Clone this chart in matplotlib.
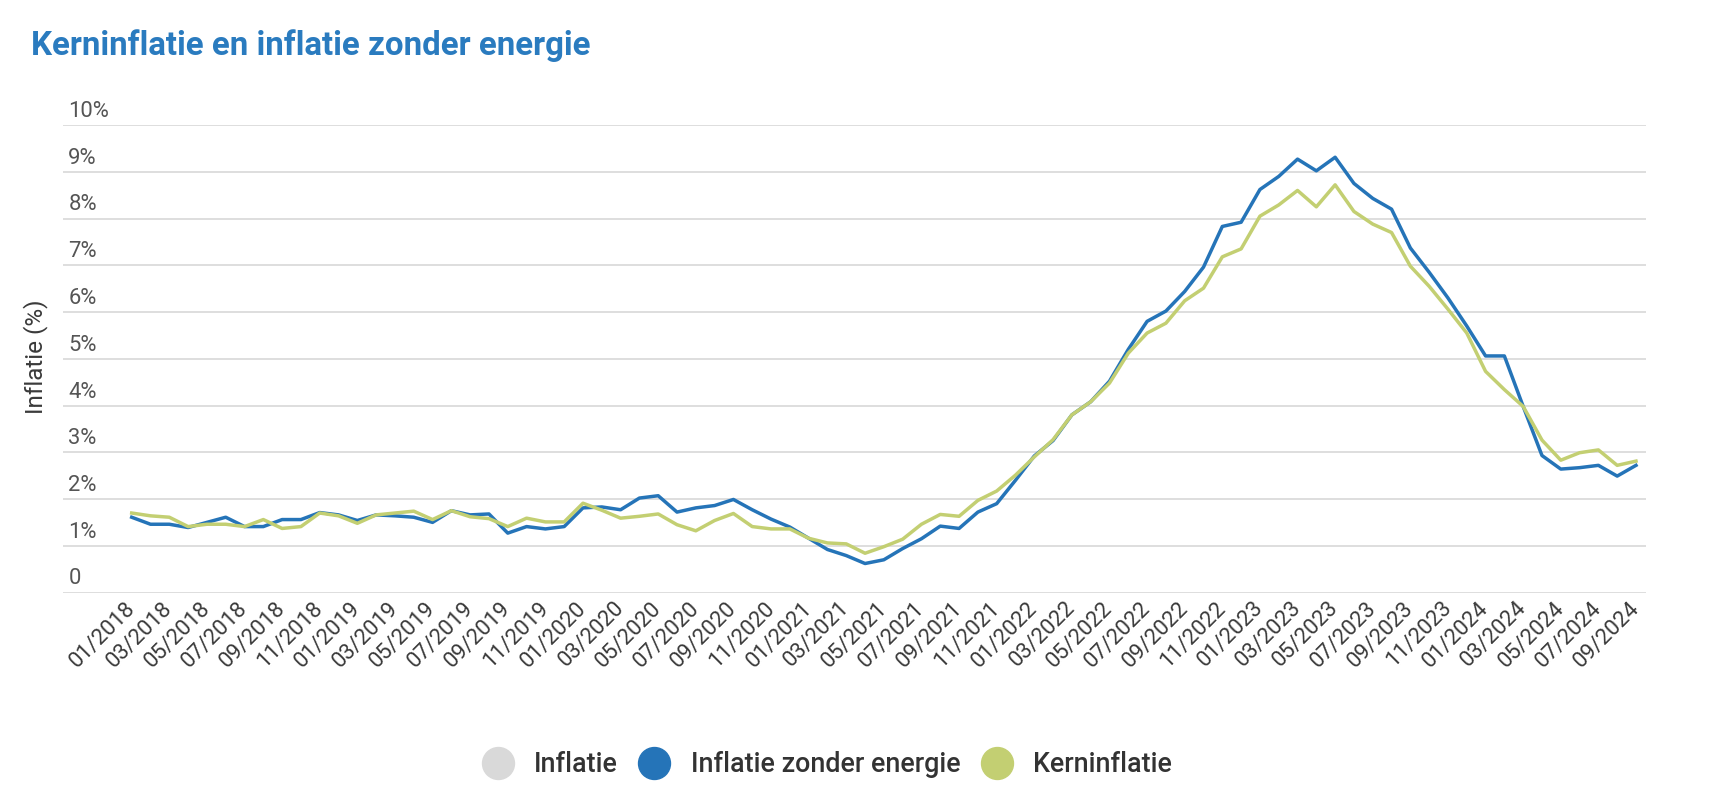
import matplotlib
matplotlib.use("Agg")
import matplotlib.pyplot as plt
from matplotlib.lines import Line2D
import matplotlib.transforms as mtransforms

# ---------------- data ----------------
months = [f"{m:02d}/{y}" for y in range(2018, 2025) for m in range(1, 13)][:81]

inflatie_zonder_energie = [
    1.61, 1.46, 1.46, 1.39, 1.50, 1.61, 1.41, 1.41, 1.56, 1.56, 1.71, 1.66,
    1.54, 1.66, 1.64, 1.61, 1.50, 1.75, 1.66, 1.68, 1.27, 1.41, 1.36, 1.41,
    1.81, 1.83, 1.77, 2.02, 2.07, 1.72, 1.81, 1.86, 1.99, 1.77, 1.57, 1.40,
    1.16, 0.92, 0.79, 0.62, 0.70, 0.94, 1.15, 1.42, 1.37, 1.72, 1.90, 2.40,
    2.92, 3.25, 3.80, 4.08, 4.52, 5.20, 5.80, 6.02, 6.44, 6.96, 7.83, 7.92,
    8.62, 8.90, 9.27, 9.02, 9.31, 8.75, 8.43, 8.20, 7.37, 6.85, 6.30, 5.70,
    5.06, 5.06, 3.98, 2.93, 2.64, 2.67, 2.72, 2.49, 2.72,
]

kerninflatie = [
    1.70, 1.64, 1.61, 1.41, 1.46, 1.46, 1.41, 1.56, 1.37, 1.41, 1.70, 1.64,
    1.48, 1.66, 1.70, 1.74, 1.56, 1.75, 1.62, 1.58, 1.41, 1.59, 1.51, 1.51,
    1.91, 1.76, 1.59, 1.63, 1.68, 1.45, 1.32, 1.54, 1.69, 1.41, 1.36, 1.36,
    1.16, 1.06, 1.04, 0.84, 0.98, 1.14, 1.46, 1.67, 1.63, 1.97, 2.17, 2.51,
    2.90, 3.27, 3.80, 4.08, 4.48, 5.12, 5.55, 5.76, 6.24, 6.51, 7.18, 7.35,
    8.05, 8.29, 8.60, 8.25, 8.72, 8.15, 7.88, 7.70, 6.98, 6.55, 6.06, 5.55,
    4.73, 4.34, 3.98, 3.26, 2.83, 2.99, 3.05, 2.72, 2.81,
]

y_ticks = [0, 1, 2, 3, 4, 5, 6, 7, 8, 9, 10]
y_tick_labels = ["0", "1%", "2%", "3%", "4%", "5%", "6%", "7%", "8%", "9%", "10%"]
x_tick_labels = months[::2]
series_names = ["Inflatie", "Inflatie zonder energie", "Kerninflatie"]
title = "Kerninflatie en inflatie zonder energie"
y_title = "Inflatie (%)"

# ---------------- style ----------------
W, H, DPI = 1712, 801, 100
C_BLUE = "#2574b8"
C_GREEN = "#c3cf72"
C_GREY = "#d9d9d9"
C_TITLE = "#2a7bbf"
C_GRID = "#dedede"

plt.rcParams["font.family"] = ["Roboto", "DejaVu Sans"]

fig = plt.figure(figsize=(W / DPI, H / DPI), dpi=DPI)
fig.patch.set_facecolor("white")

left_px, right_px, top_px, bottom_px = 63, 1646, 125.0, 592.5
ax = fig.add_axes([left_px / W, 1 - bottom_px / H,
                   (right_px - left_px) / W, (bottom_px - top_px) / H])

first_px, last_px = 131.7, 1636.0
n = len(months)
ppu = (last_px - first_px) / (n - 1)
ax.set_xlim(-(first_px - left_px) / ppu, (n - 1) + (right_px - last_px) / ppu)
ax.set_ylim(0, 10)
for s in ax.spines.values():
    s.set_visible(False)

for t in y_ticks:
    ax.axhline(t, color=C_GRID, lw=1.4, zorder=0)

x = list(range(n))
ax.plot(x, inflatie_zonder_energie, color=C_BLUE, lw=2.5, clip_on=False,
        solid_joinstyle="round", zorder=3)
ax.plot(x, kerninflatie, color=C_GREEN, lw=2.5, clip_on=False,
        solid_joinstyle="round", zorder=4)

# y tick labels: inside, left-aligned, above gridline
ax.set_yticks(y_ticks)
ax.set_yticklabels(y_tick_labels)
ax.tick_params(axis="y", length=0, pad=-3.8, labelsize=15.8, labelcolor="#555555")
off = mtransforms.ScaledTranslation(0, 8 / DPI, fig.dpi_scale_trans)
for lab in ax.get_yticklabels():
    lab.set_horizontalalignment("left")
    lab.set_verticalalignment("baseline")
    lab.set_transform(lab.get_transform() + off)

# x tick labels rotated
ax.set_xticks(x[::2])
ax.set_xticklabels(x_tick_labels, rotation=45, ha="right", va="center",
                   rotation_mode="anchor")
ax.tick_params(axis="x", length=0, pad=9, labelsize=15.8, labelcolor="#3a3a3a")

# titles
fig.text(31 / W, 1 - 55 / H, title, fontsize=23.8, fontweight="bold",
         color=C_TITLE, ha="left", va="baseline")
fig.text(36 / W, 1 - 357 / H, y_title, rotation=90, fontsize=17.5,
         color="#3a3a3a", ha="center", va="center")

# legend
handles = [
    Line2D([], [], marker="o", ls="none", markersize=23, color=C_GREY),
    Line2D([], [], marker="o", ls="none", markersize=23, color=C_BLUE),
    Line2D([], [], marker="o", ls="none", markersize=23, color=C_GREEN),
]
fig.legend(handles, series_names, loc="center", ncol=3, frameon=False,
           bbox_to_anchor=(828 / W, 1 - 765 / H),
           prop={"size": 19.4, "weight": "medium"},
           handlelength=1.0, handletextpad=0.85, columnspacing=0.85,
           labelcolor="#333333")

fig.savefig("out.png", dpi=DPI, facecolor="white")
